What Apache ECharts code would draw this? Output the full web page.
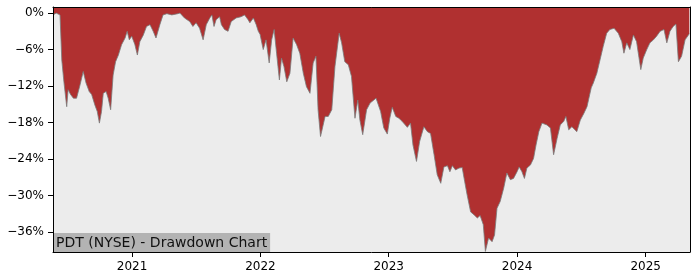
<!DOCTYPE html>
<html><head><meta charset="utf-8">
<script src="https://cdn.jsdelivr.net/npm/echarts@6/dist/echarts.min.js"></script>
<style>html,body{margin:0;padding:0;background:#fff}#c{width:700px;height:280px}</style>
</head><body><div id="c"></div>
<script>
const dates2020 = ['2020-05-21','2020-05-30','2020-06-04','2020-06-10','2020-06-15','2020-06-21','2020-06-29','2020-07-03','2020-07-10','2020-07-18','2020-07-27','2020-08-06','2020-08-15','2020-08-23','2020-09-01','2020-09-08','2020-09-17','2020-09-24','2020-09-30','2020-10-06','2020-10-11','2020-10-19','2020-10-25','2020-11-01','2020-11-08','2020-11-15','2020-11-23','2020-12-02','2020-12-12','2020-12-18','2020-12-24','2020-12-31'];
const dd2020 = [-0.3,0,-0.2,-0.3,-7.7,-11.3,-15.4,-12.6,-13.4,-14.0,-14.0,-11.8,-9.6,-11.5,-12.9,-13.4,-15.1,-16.2,-18.1,-16.2,-13.2,-12.9,-14.0,-15.9,-10.2,-8.0,-6.9,-5.2,-4.1,-3.0,-4.4,-3.8];

const dates2021 = ['2021-01-09','2021-01-16','2021-01-23','2021-02-02','2021-02-11','2021-02-21','2021-03-02','2021-03-10','2021-03-21','2021-03-30','2021-04-10','2021-04-24','2021-05-11','2021-05-17','2021-05-30','2021-06-14','2021-06-23','2021-07-02','2021-07-12','2021-07-22','2021-07-31','2021-08-10','2021-08-16','2021-08-22','2021-08-28','2021-09-07','2021-09-12','2021-09-21','2021-10-01','2021-10-10','2021-10-24','2021-11-07','2021-11-17','2021-11-27','2021-12-02','2021-12-12','2021-12-20','2021-12-26','2021-12-31'];
const dd2021 = [-5.2,-6.9,-4.7,-3.6,-2.2,-1.9,-3.0,-4.1,-1.9,-0.3,-0.1,-0.3,-0.1,0,-0.8,-1.4,-2.2,-1.6,-2.5,-4.4,-1.9,-0.8,-0.3,-2.2,-1.1,-0.6,-1.9,-2.7,-3.0,-1.4,-0.8,-0.6,-0.3,-1.1,-1.6,-0.8,-1.9,-3.0,-3.5];

const dates2022 = ['2022-01-09','2022-01-17','2022-01-26','2022-02-02','2022-02-09','2022-02-16','2022-02-24','2022-03-02','2022-03-09','2022-03-17','2022-03-26','2022-04-04','2022-04-14','2022-04-23','2022-05-03','2022-05-12','2022-05-22','2022-05-31','2022-06-08','2022-06-14','2022-06-21','2022-07-04','2022-07-13','2022-07-23','2022-08-01','2022-08-13','2022-08-20','2022-08-29','2022-09-08','2022-09-17','2022-09-27','2022-10-05','2022-10-11','2022-10-19','2022-10-30','2022-11-09','2022-11-26','2022-12-09','2022-12-18','2022-12-28'];
const dd2022 = [-6.0,-4.4,-8.2,-4.4,-2.7,-6.6,-11.0,-7.4,-8.8,-11.3,-9.9,-4.1,-5.2,-6.6,-9.9,-12.1,-13.2,-8.2,-7.1,-15.9,-20.3,-17.0,-17.0,-15.9,-8.8,-3.3,-4.9,-8.0,-8.5,-10.4,-17.3,-14.3,-17.6,-20.0,-15.9,-14.8,-14.0,-16.2,-18.9,-19.9];

const dates2023 = ['2023-01-04','2023-01-11','2023-01-21','2023-01-30','2023-02-08','2023-02-23','2023-03-04','2023-03-11','2023-03-21','2023-03-30','2023-04-11','2023-04-21','2023-04-30','2023-05-10','2023-05-19','2023-05-29','2023-06-07','2023-06-17','2023-06-24','2023-07-01','2023-07-10','2023-07-20','2023-07-29','2023-08-05','2023-08-12','2023-08-22','2023-09-01','2023-09-10','2023-09-18','2023-09-27','2023-10-03','2023-10-12','2023-10-22','2023-10-29','2023-11-05','2023-11-14','2023-11-24','2023-12-03','2023-12-13','2023-12-22'];
const dd2023 = [-17.3,-15.5,-17.0,-17.3,-17.8,-18.8,-18.1,-21.7,-24.4,-21.1,-18.7,-19.5,-19.8,-23.3,-26.6,-28.0,-25.3,-25.1,-26.1,-25.1,-25.8,-25.5,-25.4,-27.7,-29.9,-32.7,-33.2,-33.7,-33.3,-34.8,-39.2,-37.0,-37.6,-36.5,-32.1,-31.0,-28.8,-26.3,-27.4,-27.2];

const dates2024 = ['2024-01-01','2024-01-07','2024-01-15','2024-01-22','2024-01-29','2024-02-08','2024-02-17','2024-02-24','2024-03-03','2024-03-12','2024-03-26','2024-04-05','2024-04-14','2024-04-24','2024-05-03','2024-05-13','2024-05-19','2024-05-27','2024-06-05','2024-06-19','2024-06-29','2024-07-09','2024-07-18','2024-07-30','2024-08-05','2024-08-15','2024-08-24','2024-09-02','2024-09-12','2024-09-21','2024-10-03','2024-10-15','2024-10-25','2024-10-31','2024-11-08','2024-11-17','2024-11-27','2024-12-06','2024-12-18','2024-12-25'];
const dd2024 = [-26.1,-25.3,-26.1,-27.2,-25.5,-25.0,-23.9,-21.7,-19.5,-18.1,-18.4,-18.9,-23.3,-20.6,-18.4,-17.8,-17.0,-19.2,-18.7,-19.5,-17.6,-16.5,-15.4,-12.3,-11.5,-9.9,-7.7,-5.5,-3.3,-2.7,-2.5,-3.3,-4.7,-6.6,-4.9,-6.0,-3.6,-4.7,-9.3,-7.4];

const dates2025 = ['2025-01-04','2025-01-13','2025-01-23','2025-02-01','2025-02-11','2025-02-22','2025-03-02','2025-03-11','2025-03-20','2025-03-28','2025-04-04','2025-04-13','2025-04-23','2025-05-05'];
const dd2025 = [-6.0,-4.9,-4.4,-3.8,-3.0,-2.7,-4.9,-3.0,-2.2,-1.8,-8.0,-7.1,-4.4,-3.4];

const tickYears = [2021, 2022, 2023, 2024, 2025];
const yTicks = [0, -6, -12, -18, -24, -30, -36];
const chartTitle = 'PDT (NYSE) - Drawdown Chart';
const xMinDate = '2020-05-21', xMaxDate = '2025-05-07';
const yMin = -39.3, yMax = 1.0;

function toTime(s) { const p = s.split('-').map(Number); return new Date(p[0], p[1] - 1, p[2]).getTime(); }
const dates = [].concat(dates2020, dates2021, dates2022, dates2023, dates2024, dates2025);
const values = [].concat(dd2020, dd2021, dd2022, dd2023, dd2024, dd2025);
const seriesData = dates.map((d, i) => [toTime(d), values[i]]);
const xTickVals = tickYears.map(y => new Date(y, 0, 1).getTime());
const xMin = toTime(xMinDate), xMax = toTime(xMaxDate);

const font = 'DejaVu Sans';
const chart = echarts.init(document.getElementById('c'), null, {renderer: 'canvas'});
const frameLine = {show: true, onZero: false, lineStyle: {color: '#000', width: 1}};
chart.setOption({
  animation: false,
  title: {
    text: chartTitle, left: 53, bottom: 28, padding: [3, 3, 2, 3],
    backgroundColor: '#b3b3b3',
    textStyle: {fontFamily: font, fontSize: 14, fontWeight: 'normal', color: '#111', lineHeight: 14}
  },
  grid: {left: 53, right: 10, top: 7, bottom: 28, show: true, backgroundColor: '#ececec', borderWidth: 0},
  xAxis: [{
    type: 'value', min: xMin, max: xMax, z: 10, position: 'bottom',
    splitLine: {show: false}, axisLine: frameLine,
    axisTick: {show: true, length: 5, lineStyle: {color: '#000'}, customValues: xTickVals},
    axisLabel: {customValues: xTickVals, formatter: v => String(new Date(v).getFullYear()),
      fontFamily: font, fontSize: 12, color: '#000', margin: 9}
  }, {
    type: 'value', min: xMin, max: xMax, position: 'top', z: 10,
    splitLine: {show: false}, axisLine: frameLine, axisTick: {show: false}, axisLabel: {show: false}
  }],
  yAxis: [{
    type: 'value', min: yMin, max: yMax, z: 10, position: 'left',
    splitLine: {show: false}, axisLine: frameLine,
    axisTick: {show: true, length: 5, lineStyle: {color: '#000'}, customValues: yTicks},
    axisLabel: {customValues: yTicks, formatter: v => v === 0 ? '0%' : '\u2212' + Math.abs(v) + '%',
      fontFamily: font, fontSize: 12, color: '#000', margin: 9}
  }, {
    type: 'value', min: yMin, max: yMax, position: 'right', z: 10,
    splitLine: {show: false}, axisLine: frameLine, axisTick: {show: false}, axisLabel: {show: false}
  }],
  series: [{
    type: 'line', data: seriesData, showSymbol: false, xAxisIndex: 0, yAxisIndex: 0,
    lineStyle: {color: '#7a7a7a', width: 1, opacity: 0.8},
    areaStyle: {origin: 'end', color: '#b03030', opacity: 1}
  }]
});
</script>
</body></html>
